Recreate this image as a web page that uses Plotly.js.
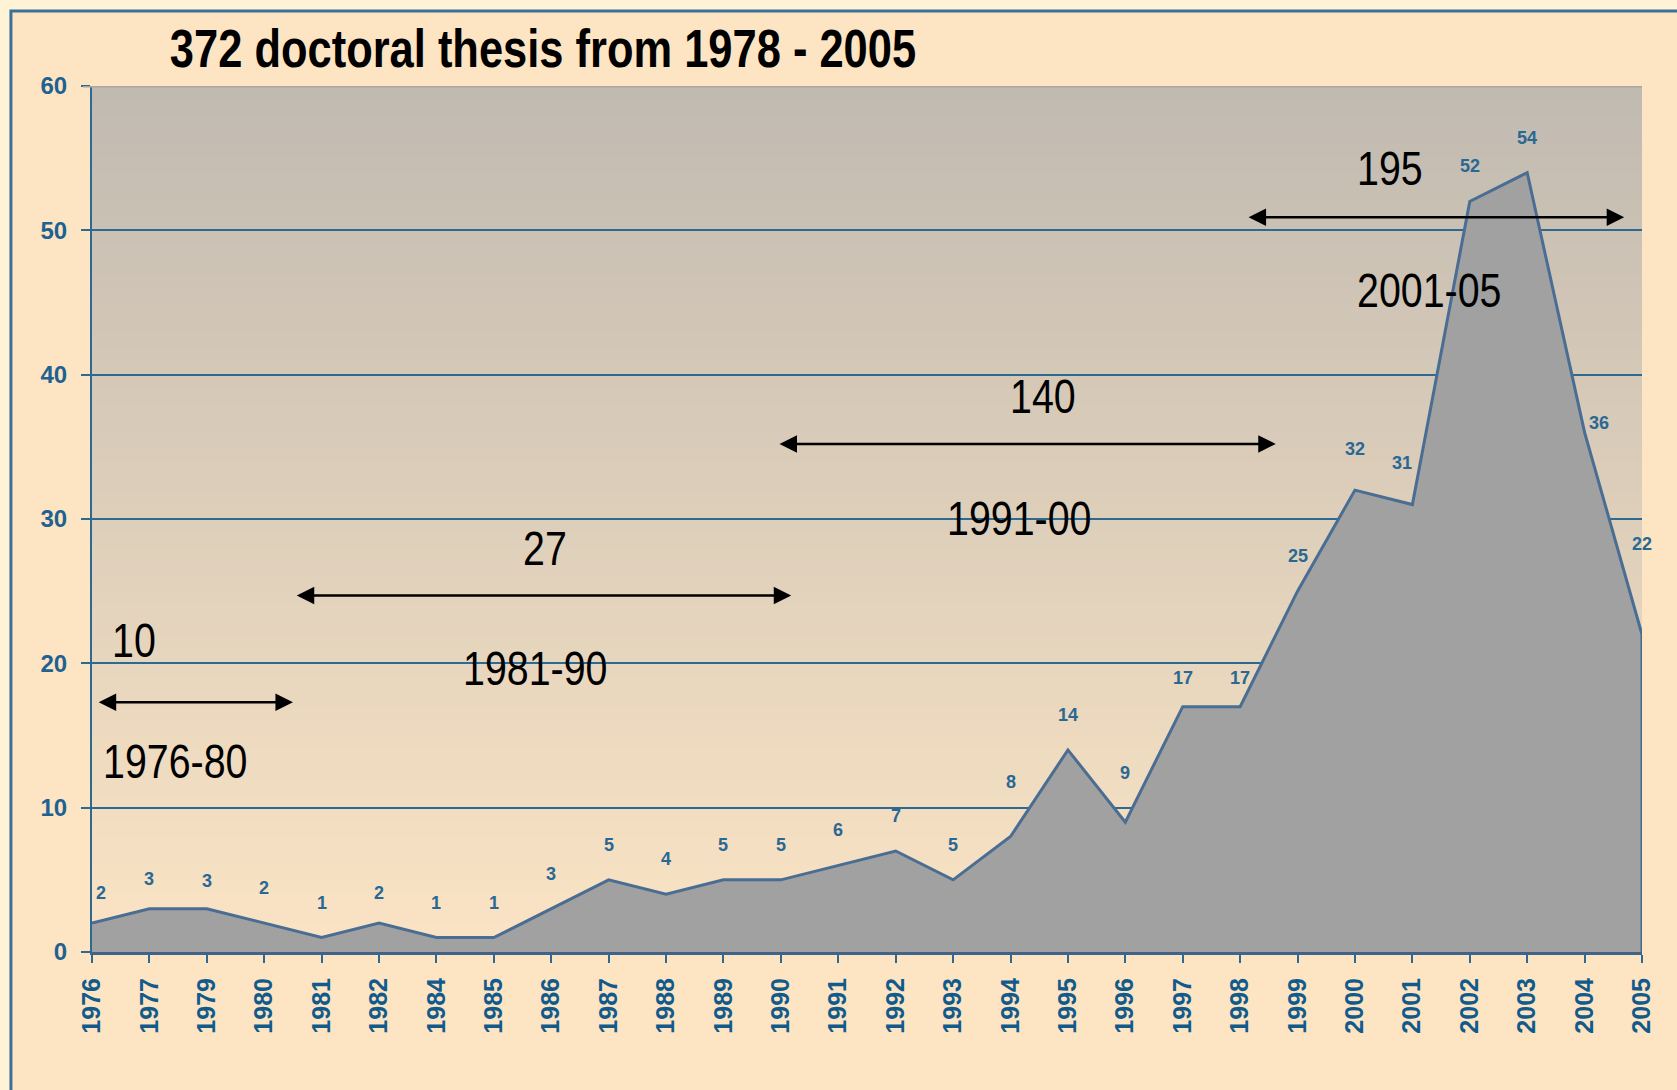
<!DOCTYPE html>
<html><head><meta charset="utf-8">
<script src="https://cdn.plot.ly/plotly-3.0.1.min.js"></script>
<style>
html,body{margin:0;padding:0;background:#FEF3D6;}
#chart{width:1677px;height:1090px;}
/* emulate a narrow (Arial Narrow–like) face by condensing Liberation Sans */
text.gtitle, text.annotation-text[style*="font-size: 48px"]{
  transform-box: fill-box; transform-origin: 50% 50%; transform: scaleX(0.82);
}
</style>
</head><body><div id="chart"></div>
<script>
// ---- data ----
const years = ['1976','1977','1979','1980','1981','1982','1984','1985','1986','1987','1988','1989','1990','1991','1992','1993','1994','1995','1996','1997','1998','1999','2000','2001','2002','2003','2004','2005'];
const theses = [2,3,3,2,1,2,1,1,3,5,4,5,5,6,7,5,8,14,9,17,17,25,32,31,52,54,36,22];
const periodLabels = ['1976-80','1981-90','1991-00','2001-05'];
const periodTotals = [10,27,140,195];
const chartTitle = '372 doctoral thesis from 1978 - 2005';
const yTicks = [0,10,20,30,40,50,60];

// ---- layout helpers (positions / styles) ----
const SANS = '"Liberation Sans", Arial, sans-serif';
const BLUE = '#2C6A92';
const LABEL_BLUE = '#2A6894';

// arrow/text geometry for the four periods (category-index x, value y)
const periodGeom = [
  {x0:0.09, x1:3.50, y:17.3, tx:0.73, ty:21.6, lx:1.45, ly:13.2},
  {x0:3.54, x1:12.18, y:24.7, tx:7.89, ty:28.0, lx:7.72, ly:19.7},
  {x0:11.95, x1:20.62, y:35.2, tx:16.56, ty:38.5, lx:16.15, ly:30.1},
  {x0:20.12, x1:26.69, y:50.9, tx:22.61, ty:54.3, lx:23.29, ly:45.9}
];
const labelTweaks = {'1976':{xshift:9,yshift:30}, '1977':{yshift:30}, '1979':{yshift:28}, '1982':{yshift:30},
  '1994':{yshift:55}, '1996':{yshift:49}, '1997':{yshift:29}, '1998':{yshift:29}, '2000':{yshift:41}, '2001':{xshift:-10,yshift:42},
  '2004':{xshift:14,yshift:9}, '2005':{yshift:90}};

const shapes = [];
// outer framed panel
shapes.push({type:'rect', xref:'paper', yref:'paper', x0:-0.0523, x1:1.3, y0:-0.5, y1:1.0866,
  fillcolor:'#FDE4C3', line:{color:'#3A7196', width:3}, layer:'below'});
// vertical gradient in plot area
const gradTop = [193,186,177], gradBot = [251,228,196];
for (let i = 0; i < 60; i++) {
  const t = (i + 0.5) / 60;
  const c = gradBot.map((b, k) => Math.round(b + (gradTop[k] - b) * t));
  shapes.push({type:'rect', xref:'paper', yref:'y', x0:0, x1:1, y0:i, y1:Math.min(60, i + 1.6),
    fillcolor:`rgb(${c[0]},${c[1]},${c[2]})`, line:{width:0, color:'rgba(0,0,0,0)'}, layer:'below'});
}
// grey top line at 60
shapes.push({type:'line', xref:'paper', yref:'y', x0:-0.006, x1:1, y0:60, y1:60,
  line:{color:'#A9A6A2', width:3}, layer:'above'});
// right edge of the area
shapes.push({type:'line', xref:'x', yref:'y', x0:years.length - 1, x1:years.length - 1, y0:0, y1:theses[theses.length - 1],
  line:{color:'#46698F', width:3}, layer:'above'});

const annotations = [];
// data labels
years.forEach((yr, i) => {
  const tw = labelTweaks[yr] || {};
  annotations.push({x:i, y:theses[i], xref:'x', yref:'y', text:String(theses[i]), showarrow:false,
    xshift:tw.xshift || 0, yshift:tw.yshift !== undefined ? tw.yshift : 35,
    font:{family:SANS, size:18, color:LABEL_BLUE, weight:'bold'}});
});
// periods
periodLabels.forEach((lab, i) => {
  const g = periodGeom[i];
  annotations.push({x:g.tx, y:g.ty, xref:'x', yref:'y', text:String(periodTotals[i]), showarrow:false,
    font:{family:SANS, size:48, color:'#000'}});
  annotations.push({x:g.lx, y:g.ly, xref:'x', yref:'y', text:lab, showarrow:false,
    font:{family:SANS, size:48, color:'#000'}});
  annotations.push({x:g.x1, y:g.y, xref:'x', yref:'y', ax:g.x0, ay:g.y, axref:'x', ayref:'y', text:'',
    showarrow:true, arrowhead:2, startarrowhead:2, arrowside:'end+start', arrowwidth:2.5, arrowsize:1.4, startarrowsize:1.4,
    arrowcolor:'#000', standoff:0, startstandoff:0});
});

const trace = {
  x: years, y: theses, type:'scatter', mode:'lines', fill:'tozeroy',
  fillcolor:'#A1A1A1', line:{color:'#4A6D93', width:3}, hoverinfo:'x+y'
};

const layout = {
  width:1677, height:1090,
  margin:{l:92, r:35, t:86, b:138, pad:0},
  paper_bgcolor:'#FEF3D6', plot_bgcolor:'rgba(0,0,0,0)',
  showlegend:false,
  title:{text:chartTitle, font:{family:SANS, size:53, color:'#000', weight:'bold'},
    xref:'container', yref:'container', x:543/1677, xanchor:'center', y:1 - 48/1090, yanchor:'middle'},
  xaxis:{type:'category', range:[0, years.length - 1], showgrid:false, zeroline:false,
    showline:true, linecolor:'#3F6389', linewidth:3,
    ticks:'outside', ticklen:8, tickwidth:2, tickcolor:BLUE, tickangle:-90, ticklabelstandoff:5,
    tickfont:{family:SANS, size:25, color:'#115B8C', weight:'bold'}},
  yaxis:{range:[0,60], tickvals:yTicks, showgrid:true, gridcolor:BLUE, gridwidth:2, zeroline:false,
    showline:true, linecolor:BLUE, linewidth:2,
    ticks:'outside', ticklen:9, tickwidth:2, tickcolor:BLUE, ticklabelstandoff:9,
    tickfont:{family:SANS, size:24, color:'#1F6190', weight:'bold'}},
  shapes: shapes,
  annotations: annotations
};

Plotly.newPlot('chart', [trace], layout, {displayModeBar:false, staticPlot:true});
</script>
</body></html>
